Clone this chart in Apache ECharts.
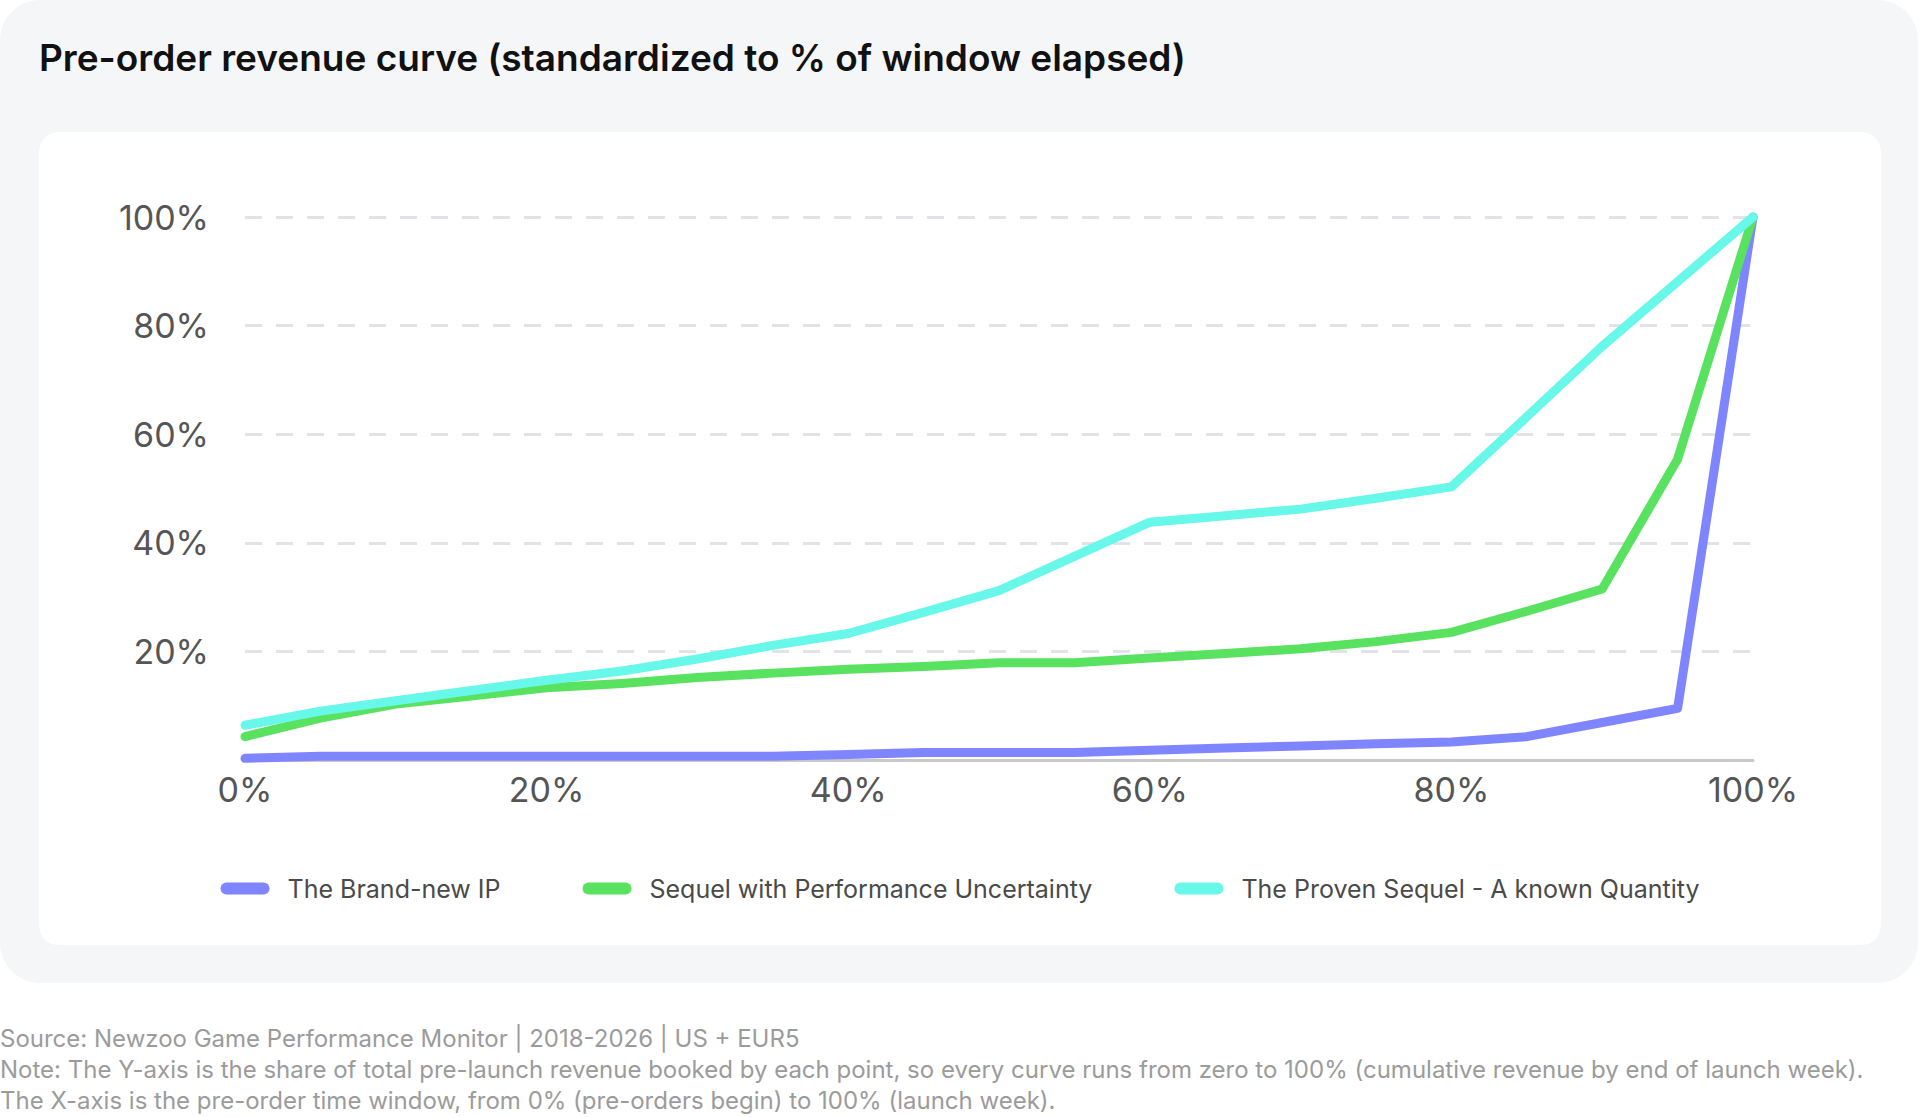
<!DOCTYPE html>
<html>
<head>
<meta charset="utf-8">
<title>Pre-order revenue curve</title>
<script src="https://cdn.jsdelivr.net/npm/echarts@6/dist/echarts.min.js"></script>
<style>
  body {
    margin: 0;
    width: 1920px;
    height: 1117px;
    background: #ffffff;
    position: relative;
    overflow: hidden;
    font-family: Inter, 'Noto Sans', sans-serif;
  }
  .panel {
    position: absolute;
    left: 0;
    top: 0;
    width: 1918px;
    height: 983px;
    background: #f5f6f8;
    border-radius: 40px;
  }
  .title {
    position: absolute;
    left: 39px;
    top: 36px;
    font-size: 37px;
    line-height: 44px;
    font-weight: 600;
    color: #111111;
  }
  .card {
    position: absolute;
    left: 39px;
    top: 132px;
    width: 1842px;
    height: 813px;
    background: #ffffff;
    border-radius: 20px;
  }
  .notes {
    position: absolute;
    left: 0;
    top: 1023px;
    font-size: 24px;
    line-height: 31px;
    color: #9b9b9b;
    white-space: nowrap;
  }
</style>
</head>
<body>
  <div class="panel"></div>
  <div class="title">Pre-order revenue curve (standardized to % of window elapsed)</div>
  <div class="card" id="chart"></div>
  <div class="notes">
    <div>Source: Newzoo Game Performance Monitor | 2018-2026 | US + EUR5</div>
    <div>Note: The Y-axis is the share of total pre-launch revenue booked by each point, so every curve runs from zero to 100% (cumulative revenue by end of launch week).</div>
    <div>The X-axis is the pre-order time window, from 0% (pre-orders begin) to 100% (launch week).</div>
  </div>

<script>
  // % of pre-order window elapsed
  const windowSteps = [
    '0%', '5%', '10%', '15%', '20%', '25%', '30%', '35%', '40%', '45%', '50%',
    '55%', '60%', '65%', '70%', '75%', '80%', '85%', '90%', '95%', '100%'
  ]

  // cumulative share of pre-launch revenue (%)
  const brandNewIP = [
    0.3, 0.7, 0.7, 0.7, 0.7, 0.7, 0.7, 0.7, 1.0, 1.4, 1.4,
    1.4, 1.8, 2.2, 2.6, 3.0, 3.3, 4.3, 6.9, 9.5, 100
  ]
  const sequelUncertain = [
    4.3, 7.7, 10.3, 11.8, 13.3, 14.1, 15.2, 16.0, 16.7, 17.2, 17.9,
    17.9, 18.8, 19.6, 20.5, 21.8, 23.5, 27.4, 31.5, 55.4, 100
  ]
  const provenSequel = [
    6.4, 9.0, 10.9, 12.8, 14.7, 16.4, 18.6, 21.1, 23.3, 27.2, 31.2,
    37.5, 43.8, 45.0, 46.2, 48.2, 50.3, 63.2, 76.2, 88.1, 100
  ]

  const seriesNames = [
    'The Brand-new IP',
    'Sequel with Performance Uncertainty',
    'The Proven Sequel - A known Quantity'
  ]
  const colors = ['#7f84ff', '#59e25f', '#67f8ea']

  const yTicks = { min: 0, max: 100, interval: 20 }

  const pill = 'path://M6,0 L43,0 A6,6 0 0 1 43,12 L6,12 A6,6 0 0 1 6,0 Z'

  const chart = echarts.init(document.getElementById('chart'), null, { renderer: 'svg' })

  const lineSeries = (name, data, color) => ({
    name: name,
    type: 'line',
    data: data,
    showSymbol: false,
    symbol: 'none',
    color: color,
    lineStyle: { width: 9, color: color, cap: 'round', join: 'round' },
    emphasis: { disabled: true }
  })

  const option = {
    animation: false,
    textStyle: { fontFamily: 'Inter, Noto Sans, sans-serif' },
    grid: { left: 206, right: 128, top: 85, bottom: 185 },
    legend: {
      data: seriesNames,
      left: 'center',
      top: 739,
      icon: pill,
      itemWidth: 49,
      itemHeight: 12,
      itemGap: 82,
      textStyle: { fontSize: 25, color: '#4a4a4a', padding: [0, 0, 0, 13] }
    },
    xAxis: {
      type: 'category',
      data: windowSteps,
      boundaryGap: false,
      axisLine: { show: true, lineStyle: { color: '#c9c9c9', width: 3 } },
      axisTick: { show: false },
      axisLabel: { interval: 3, fontSize: 34, color: '#555555', margin: 12 },
      splitLine: { show: false }
    },
    yAxis: {
      type: 'value',
      min: yTicks.min,
      max: yTicks.max,
      interval: yTicks.interval,
      axisLine: { show: false },
      axisTick: { show: false },
      axisLabel: {
        formatter: '{value}%',
        fontSize: 34,
        color: '#555555',
        margin: 36,
        showMinLabel: false
      },
      splitLine: {
        show: true,
        lineStyle: { color: '#e2e3e6', width: 3, type: [17, 14] }
      }
    },
    series: [
      lineSeries(seriesNames[0], brandNewIP, colors[0]),
      lineSeries(seriesNames[1], sequelUncertain, colors[1]),
      lineSeries(seriesNames[2], provenSequel, colors[2])
    ]
  }

  chart.setOption(option)
</script>
</body>
</html>
